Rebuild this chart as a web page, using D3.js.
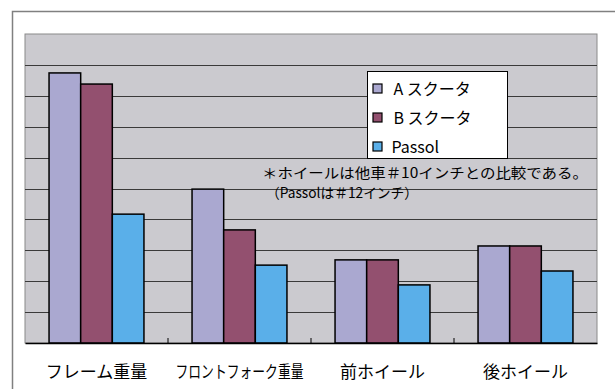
<!DOCTYPE html>
<meta charset="utf-8">
<head>
<style>
body { margin: 0; background: #fff; }
text { font-family: "Noto Sans CJK JP", "Noto Sans", sans-serif; fill: #000; }
.grid line { stroke: #3a3a3a; stroke-width: 1px; }
.grid path { display: none; }
.bar { stroke: #000; stroke-width: 1.5px; }
</style>
</head>
<body>
<script src="https://d3js.org/d3.v7.min.js"></script>
<script>

// chart data
var categories = ["フレーム重量", "フロントフォーク重量", "前ホイール", "後ホイール"];
var seriesNames = ["A スクータ", "B スクータ", "Passol"];
var aValues = [8.74, 4.98, 2.69, 3.14];
var bValues = [8.38, 3.66, 2.69, 3.14];
var passolValues = [4.17, 2.52, 1.88, 2.33];
var colors = ["#aaa8d0", "#93506f", "#5aafe9"];
var note1 = "＊ホイールは他車＃10インチとの比較である。";
var note2 = "（Passolは＃12インチ）";

var allValues = [aValues, bValues, passolValues];

var margin = {top: 34, left: 25},
    width = 572,
    height = 309;

var svg = d3.select("body").append("svg")
    .attr("width", 615)
    .attr("height", 389);

// outer frame
svg.append("rect")
    .attr("x", 12.5).attr("y", 11.5)
    .attr("width", 620).attr("height", 400)
    .attr("fill", "#fff")
    .attr("stroke", "#808080")
    .attr("stroke-width", 1.5);

var g = svg.append("g")
    .attr("transform", "translate(" + margin.left + "," + margin.top + ")");

var x0 = d3.scaleBand().domain(categories).range([0, width]).padding(0);
var x1 = d3.scaleBand().domain(d3.range(seriesNames.length))
    .range([0, x0.bandwidth()]).paddingInner(0).paddingOuter(0.76);
var y = d3.scaleLinear().domain([0, 10]).range([height, 0]);

// plot background
g.append("rect")
    .attr("width", width).attr("height", height)
    .attr("fill", "#cbcacf")
    .attr("stroke", "#8a8a8a")
    .attr("stroke-width", 1);

// gridlines
g.append("g")
    .attr("class", "grid")
    .call(d3.axisLeft(y).tickValues(d3.range(1, 10)).tickSize(-width).tickFormat(""))
    .selectAll(".tick line").attr("shape-rendering", "crispEdges");

// bars
var rows = categories.map(function(c, i) {
  return {cat: c, vals: allValues.map(function(s) { return s[i]; })};
});

var groups = g.selectAll(".cat")
    .data(rows)
  .enter().append("g")
    .attr("transform", function(d) { return "translate(" + x0(d.cat) + ",0)"; });

groups.selectAll("rect")
    .data(function(d) { return d.vals; })
  .enter().append("rect")
    .attr("class", "bar")
    .attr("x", function(d, i) { return x1(i); })
    .attr("y", function(d) { return y(d); })
    .attr("width", x1.bandwidth())
    .attr("height", function(d) { return height - y(d); })
    .attr("fill", function(d, i) { return colors[i]; });

// x axis
var xAxis = g.append("g")
    .attr("transform", "translate(0," + height + ")")
    .call(d3.axisBottom(x0).tickSize(0).tickPadding(0).tickFormat(""));
xAxis.select(".domain").attr("stroke", "#000").attr("stroke-width", 1.5);

// small tick marks between categories
xAxis.selectAll(".sep")
    .data(categories.slice(1))
  .enter().append("line")
    .attr("x1", function(d) { return x0(d); })
    .attr("x2", function(d) { return x0(d); })
    .attr("y1", 0).attr("y2", -5)
    .attr("stroke", "#000");

// category labels
g.selectAll(".catlabel")
    .data(categories)
  .enter().append("text")
    .attr("x", function(d) { return x0(d) + x0.bandwidth() / 2; })
    .attr("y", height + 35)
    .attr("text-anchor", "middle")
    .attr("font-size", 17)
    .each(function(d) {
      if (d.length > 6) {
        d3.select(this).attr("textLength", 128).attr("lengthAdjust", "spacingAndGlyphs");
      }
    })
    .text(function(d) { return d; });

// legend
var legend = svg.append("g").attr("transform", "translate(367.5,71.5)");
legend.append("rect")
    .attr("width", 140).attr("height", 87)
    .attr("fill", "#fff")
    .attr("stroke", "#000");

var items = legend.selectAll(".item")
    .data(seriesNames)
  .enter().append("g")
    .attr("transform", function(d, i) { return "translate(0," + (17 + i * 29) + ")"; });

items.append("rect")
    .attr("x", 5.5).attr("y", -4.5)
    .attr("width", 9).attr("height", 9)
    .attr("fill", function(d, i) { return colors[i]; })
    .attr("stroke", "#000")
    .attr("stroke-width", 1.2);

items.append("text")
    .attr("x", function(d, i) { return i < 2 ? 26 : 24; })
    .attr("y", 6)
    .attr("font-size", 16)
    .text(function(d) { return d; });

// note
svg.append("text")
    .attr("x", 262).attr("y", 178)
    .attr("font-size", 14)
    .attr("textLength", 326)
    .attr("lengthAdjust", "spacingAndGlyphs")
    .text(note1);
svg.append("text")
    .attr("x", 266).attr("y", 198)
    .attr("font-size", 14)
    .attr("textLength", 152)
    .attr("lengthAdjust", "spacingAndGlyphs")
    .text(note2);

</script>
</body>
